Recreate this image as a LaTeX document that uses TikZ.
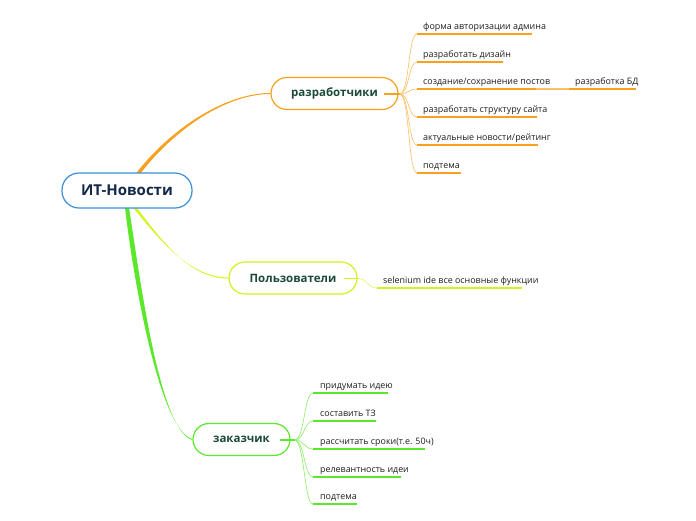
\documentclass[tikz,border=0pt]{standalone}
\usepackage{fontspec}
\setmainfont{Open Sans}
\usetikzlibrary{calc}
\pgfdeclarelayer{background}
\pgfsetlayers{background,main}
\definecolor{rootblue}{HTML}{3A8FD6}
\definecolor{navy}{HTML}{13294B}
\definecolor{dgreen}{HTML}{1B4A3A}
\definecolor{orng}{HTML}{F8A11E}
\definecolor{orngL}{HTML}{FBC06A}
\definecolor{ylw}{HTML}{D5F21C}
\definecolor{ylwL}{HTML}{E2F56A}
\definecolor{grn}{HTML}{5CE82A}
\definecolor{grnL}{HTML}{8FEE6C}
\definecolor{txt}{HTML}{1E1E1E}
\tikzset{
  rootbox/.style={draw=rootblue, line width=1.2pt, rounded corners=17pt, fill=white,
    minimum width=130pt, minimum height=35pt, inner sep=0pt,
    font=\bfseries\fontsize{15}{18}\selectfont, text=navy},
  branchbox/.style={line width=1.2pt, rounded corners=16pt, fill=white,
    minimum height=32pt, inner sep=0pt,
    font=\bfseries\fontsize{11.5}{14}\selectfont, text=dgreen},
  leaf/.style={anchor=base west, inner sep=0pt, font=\fontsize{8.9}{10}\selectfont, text=txt},
  ul/.style={line width=1.8pt},
  fan/.style={line width=0.65pt},
  stub/.style={line width=1.5pt}
}
\begin{document}
\begin{tikzpicture}[x=1pt,y=-1pt]
\useasboundingbox (0,0) rectangle (696,520);

% main nodes
\node[rootbox] (root) at (127,190.5) {ИТ-Новости};
\node[branchbox, draw=orng, minimum width=127pt] (dev) at (334.5,93.5) {разработчики};
\node[branchbox, draw=ylw, minimum width=128pt] (usr) at (293,278) {Пользователи};
\node[branchbox, draw=grn, minimum width=97pt] (cus) at (241.5,439.5) {заказчик};

% root connectors (tapered)
\begin{pgfonlayer}{background}
\fill[orng] ($(root.north)+(9,1)$) .. controls +(35,-45) and +(-45,0) .. ($(dev.west)+(0,-0.5)$)
  -- ($(dev.west)+(0,0.5)$) .. controls +(-45,0) and +(33,-43) .. ($(root.north)+(13.5,1)$) -- cycle;
\fill[ylw] ($(root.south)+(6,-1)$) .. controls +(25,30) and +(-40,0) .. ($(usr.west)+(0,-0.5)$)
  -- ($(usr.west)+(0,0.5)$) .. controls +(-40,0) and +(25,32) .. ($(root.south)+(9.5,-1)$) -- cycle;
\fill[grn] ($(root.south)+(-2,-1)$) .. controls +(8,70) and +(-33,-9) .. ($(cus.west)+(0,-0.5)$)
  -- ($(cus.west)+(0,0.5)$) .. controls +(-33,-9) and +(11,70) .. ($(root.south)+(2,-1)$) -- cycle;
\end{pgfonlayer}

% stubs inside branch nodes
\draw[stub, orng] ($(dev.east)+(-15,0.5)$) -- ($(dev.east)+(2,0.5)$);
\draw[stub, ylw] ($(usr.east)+(-14,0.5)$) -- ($(usr.east)+(1,0.5)$);
\draw[stub, grn] ($(cus.east)+(-11,0.5)$) -- ($(cus.east)+(5,0.5)$);

% developer leaves
\node[leaf] (d1) at (423,29.5) {форма авторизации админа};
\node[leaf] (d2) at (423,57.5) {разработать дизайн};
\node[leaf] (d3) at (423,84.5) {создание/сохранение постов};
\node[leaf] (d4) at (423,112.5) {разработать структуру сайта};
\node[leaf] (d5) at (423,140.5) {актуальные новости/рейтинг};
\node[leaf] (d6) at (423,168.5) {подтема};
\node[leaf] (d7) at (575,84.5) {разработка БД};
\coordinate (d1a) at (417,34);  \coordinate (d1b) at (532,34);
\coordinate (d2a) at (417,62);  \coordinate (d2b) at (503,62);
\coordinate (d3a) at (417,89);  \coordinate (d3b) at (536,89);
\coordinate (d4a) at (417,117); \coordinate (d4b) at (537,117);
\coordinate (d5a) at (417,145); \coordinate (d5b) at (538,145);
\coordinate (d6a) at (417,173); \coordinate (d6b) at (461,173);
\coordinate (d7a) at (569,89);  \coordinate (d7b) at (636,89);
\coordinate (devout) at ($(dev.east)+(1,0.5)$);
\foreach \i in {1,...,6} {
  \draw[fan, orngL] (devout) .. controls +(10,0) and +(-9,0) .. (d\i a);
  \draw[ul, orng] (d\i a) -- (d\i b);
}
\draw[fan, orngL, line width=1.2pt] (d3b) .. controls +(15,0) and +(-15,0) .. (d7a);
\draw[ul, orng] (d7a) -- (d7b);

% user leaf
\node[leaf] (u1) at (383,283.5) {selenium ide все основные функции};
\coordinate (u1a) at (377,288); \coordinate (u1b) at (522,288);
\draw[fan, ylwL] ($(usr.east)+(0,0.5)$) .. controls +(10,0) and +(-10,0) .. (u1a);
\draw[ul, ylw] (u1a) -- (u1b);

% customer leaves
\node[leaf] (c1) at (320,388.5) {придумать идею};
\node[leaf] (c2) at (320,416.5) {составить ТЗ};
\node[leaf] (c3) at (320,444.5) {рассчитать сроки(т.е. 50ч)};
\node[leaf] (c4) at (320,472.5) {релевантность идеи};
\node[leaf] (c5) at (320,499.5) {подтема};
\coordinate (c1a) at (313,393); \coordinate (c1b) at (388,393);
\coordinate (c2a) at (313,421); \coordinate (c2b) at (376,421);
\coordinate (c3a) at (313,449); \coordinate (c3b) at (425,449);
\coordinate (c4a) at (313,477); \coordinate (c4b) at (401,477);
\coordinate (c5a) at (313,504); \coordinate (c5b) at (357,504);
\coordinate (cusout) at ($(cus.east)+(4,0.5)$);
\foreach \i in {1,...,5} {
  \draw[fan, grnL] (cusout) .. controls +(10,0) and +(-9,0) .. (c\i a);
  \draw[ul, grn] (c\i a) -- (c\i b);
}
\end{tikzpicture}
\end{document}
